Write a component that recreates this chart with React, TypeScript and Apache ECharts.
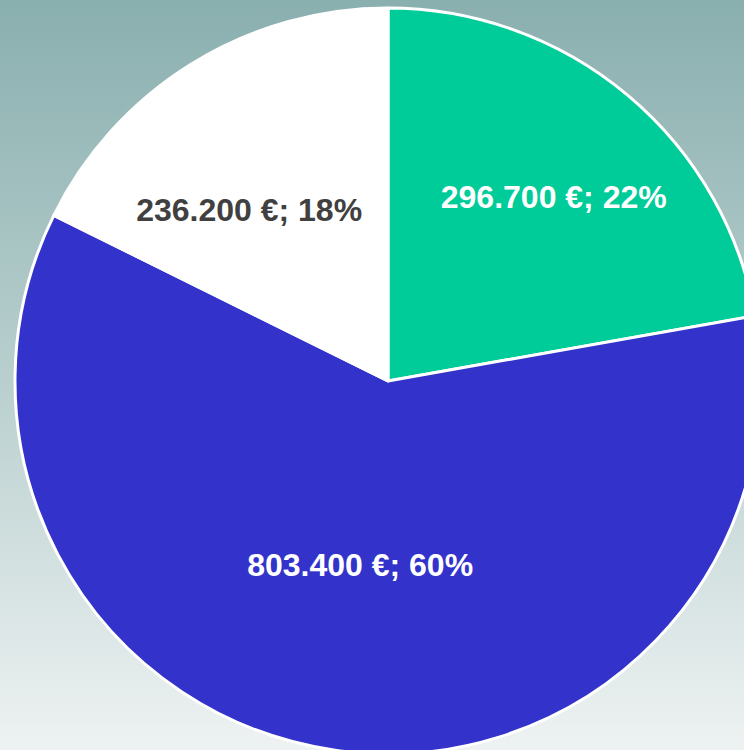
import React, { useEffect, useRef } from "react";
import * as echarts from "echarts";

const categories = ["Grün", "Blau", "Weiß"];
const values = [296700, 803400, 236200];
const colors = ["#00CC99", "#3333CC", "#FFFFFF"];
const labelColors = ["#FFFFFF", "#FFFFFF", "#404040"];
const labelOffsets: [number, number][] = [[44, -39], [-1, -4], [-39, -10]];

function fmt(v: number): string {
  return v.toFixed(0).replace(/\B(?=(\d{3})+(?!\d))/g, ".");
}

export default function App() {
  const ref = useRef<HTMLDivElement>(null);
  useEffect(() => {
    if (!ref.current) return;
    const chart = echarts.init(ref.current, null, { renderer: "svg" });
    chart.setOption({
      animation: false,
      series: [
        {
          type: "pie",
          center: [388, 381],
          radius: 373,
          startAngle: 90,
          clockwise: true,
          avoidLabelOverlap: false,
          itemStyle: { borderColor: "#FFFFFF", borderWidth: 3 },
          label: {
            show: true,
            position: "inside",
            fontFamily: "Liberation Sans, Arial, sans-serif",
            fontWeight: "bold",
            fontSize: 32,
            formatter: (p: any) => `${fmt(p.value)} €; ${Math.round(p.percent)}%`,
          },
          labelLine: { show: false },
          emphasis: { disabled: true },
          data: categories.map((name, i) => ({
            name,
            value: values[i],
            itemStyle: { color: colors[i] },
            label: { color: labelColors[i], offset: labelOffsets[i] },
          })),
        },
      ],
    });
    return () => chart.dispose();
  }, []);
  return (
    <div
      ref={ref}
      style={{
        position: "fixed",
        left: 0,
        top: 0,
        width: 744,
        height: 750,
        background: "linear-gradient(to bottom, #8AAFAF 0%, #B8CFCE 50%, #EEF2F2 100%)",
      }}
    />
  );
}
